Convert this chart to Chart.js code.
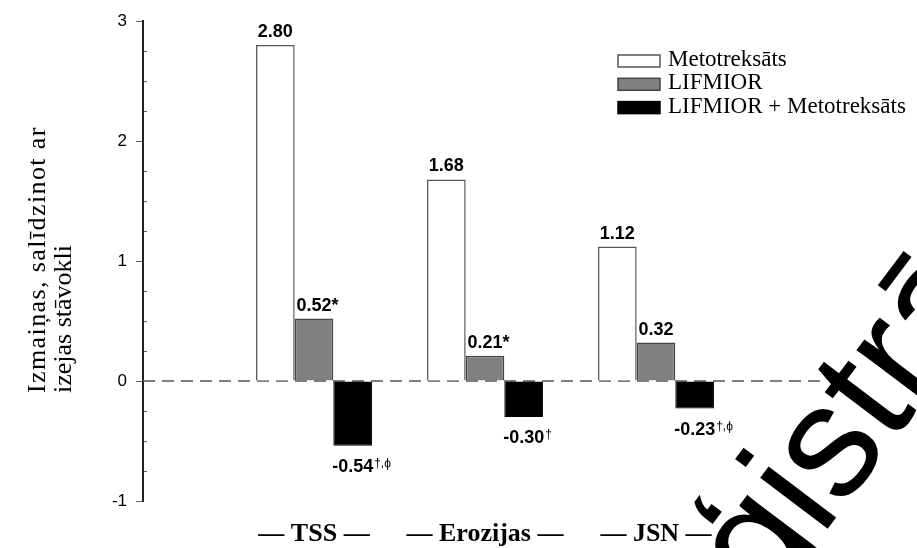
<!DOCTYPE html>
<html>
<head>
<meta charset="utf-8">
<script src="https://cdn.jsdelivr.net/npm/chart.js@4.4.1/dist/chart.umd.min.js"></script>
<style>
  html, body { margin: 0; padding: 0; background: #fff; }
</style>
</head>
<body>
<canvas id="chart" width="917" height="548"></canvas>
<script>
// Data
const categories = ['TSS', 'Erozijas', 'JSN'];
const metotreksats = [2.80, 1.68, 1.12];
const lifmior = [0.52, 0.21, 0.32];
const lifmiorMtx = [-0.54, -0.30, -0.23];
const lifmiorNotes = ['*', '*', ''];
const lifmiorMtxNotes = ['\u2020,\u03D5', '\u2020', '\u2020,\u03D5'];
const seriesNames = ['Metotreksāts', 'LIFMIOR', 'LIFMIOR + Metotreksāts'];
const yRange = [-1, 3];
const yStep = 0.25;
const yTitle = ['Izmaiņas, salīdzinot ar', 'izejas stāvokli'];
const watermark = 'reģistrāts';

const SERIF = '"Liberation Serif", "Times New Roman", serif';
const SANS = '"Liberation Sans", Arial, sans-serif';

// empty slots at both ends so the axis starts half a group before TSS
const pad = arr => [null, ...arr, null];
const xLabels = ['', ...categories.map(c => '\u2014 ' + c + ' \u2014'), ''];

// Zero line (dashed)
const zeroLine = {
    id: 'zeroLine',
    beforeDatasetsDraw(chart) {
        const { ctx, chartArea, scales } = chart;
        const y = scales.y.getPixelForValue(0);
        ctx.save();
        ctx.strokeStyle = '#555';
        ctx.lineWidth = 1.5;
        ctx.setLineDash([12, 7]);
        ctx.beginPath();
        ctx.moveTo(chartArea.left, y);
        ctx.lineTo(chartArea.right, y);
        ctx.stroke();
        ctx.restore();
    }
};

// Value labels over / under the bars
const valueLabels = {
    id: 'valueLabels',
    afterDatasetsDraw(chart) {
        const { ctx } = chart;
        ctx.save();
        ctx.fillStyle = '#000';
        ctx.textBaseline = 'alphabetic';
        ctx.textAlign = 'left';
        chart.data.datasets.forEach((ds, i) => {
            const meta = chart.getDatasetMeta(i);
            meta.data.forEach((bar, j) => {
                const v = ds.data[j];
                if (v === null || v === undefined) return;
                const text = v.toFixed(2);
                ctx.font = 'bold 18px ' + SANS;
                const w = ctx.measureText(text).width;
                const x = bar.x - w / 2;
                const y = v >= 0 ? bar.y - 8 : bar.y + 26;
                ctx.fillText(text, x, y);
                const note = ds.notes ? ds.notes[j] : '';
                if (!note) return;
                if (note === '*') {
                    ctx.fillText(note, x + w, y);
                } else {
                    ctx.font = '12px ' + SANS;
                    ctx.fillText(note, x + w + 1, y - 5);
                }
            });
        });
        ctx.restore();
    }
};

// Minor ticks on the inner side of the y axis, legend, axis title, watermark
const decorations = {
    id: 'decorations',
    afterDraw(chart) {
        const { ctx, chartArea, scales } = chart;
        ctx.save();

        // minor ticks
        ctx.strokeStyle = '#666';
        ctx.lineWidth = 1;
        scales.y.ticks.forEach(t => {
            if (Number.isInteger(t.value)) return;
            const y = Math.round(scales.y.getPixelForValue(t.value)) + 0.5;
            ctx.beginPath();
            ctx.moveTo(chartArea.left + 1, y);
            ctx.lineTo(chartArea.left + 4, y);
            ctx.stroke();
        });

        // legend
        const lx = 618, ly = 55, rowH = 23.3, bw = 42, bh = 12;
        chart.data.datasets.forEach((ds, i) => {
            const y = ly + i * rowH;
            ctx.fillStyle = ds.backgroundColor;
            ctx.fillRect(lx, y, bw, bh);
            ctx.strokeStyle = ds.borderColor;
            ctx.lineWidth = 1.5;
            ctx.strokeRect(lx, y, bw, bh);
            ctx.fillStyle = '#000';
            ctx.font = '23px ' + SERIF;
            ctx.textAlign = 'left';
            ctx.textBaseline = 'alphabetic';
            ctx.fillText(ds.label, lx + bw + 8, y + 11);
        });

        // y axis title
        ctx.save();
        ctx.translate(0, 393);
        ctx.rotate(-Math.PI / 2);
        ctx.font = '26px ' + SERIF;
        ctx.fillStyle = '#000';
        ctx.textAlign = 'left';
        ctx.letterSpacing = '1.4px';
        ctx.fillText(yTitle[0], 0, 45);
        ctx.letterSpacing = '0px';
        ctx.fillText(yTitle[1], 0, 71);
        ctx.restore();

        // watermark
        ctx.save();
        ctx.translate(682, 722);
        ctx.rotate(-53 * Math.PI / 180);
        ctx.font = '160px ' + SANS;
        ctx.fillStyle = '#000';
        ctx.textAlign = 'left';
        ctx.fillText(watermark, 0, 0);
        ctx.restore();

        ctx.restore();
    }
};

const ctx = document.getElementById('chart').getContext('2d');
new Chart(ctx, {
    type: 'bar',
    data: {
        labels: xLabels,
        datasets: [
            {
                label: seriesNames[0],
                data: pad(metotreksats),
                backgroundColor: '#ffffff',
                borderColor: '#555555',
                borderWidth: 1.5
            },
            {
                label: seriesNames[1],
                data: pad(lifmior),
                notes: pad(lifmiorNotes),
                backgroundColor: '#808080',
                borderColor: '#444444',
                borderWidth: 1.5
            },
            {
                label: seriesNames[2],
                data: pad(lifmiorMtx),
                notes: pad(lifmiorMtxNotes),
                backgroundColor: '#000000',
                borderColor: '#000000',
                borderWidth: 1
            }
        ]
    },
    options: {
        responsive: false,
        animation: false,
        layout: { padding: { left: 108, right: 90, top: 21, bottom: 0 } },
        plugins: {
            legend: { display: false },
            tooltip: { enabled: false }
        },
        datasets: {
            bar: { barPercentage: 1, categoryPercentage: 0.678, borderSkipped: 'start' }
        },
        scales: {
            x: {
                offset: false,
                grid: { display: false, drawTicks: false },
                border: { display: false },
                ticks: {
                    color: '#000',
                    font: { family: SERIF, size: 26, weight: 'bold' },
                    padding: 18,
                    autoSkip: false,
                    maxRotation: 0
                },
                afterFit: s => { s.height = 47; }
            },
            y: {
                min: yRange[0],
                max: yRange[1],
                ticks: {
                    stepSize: yStep,
                    autoSkip: false,
                    color: '#000',
                    font: { family: SANS, size: 17 },
                    padding: 9,
                    callback: v => Number.isInteger(v) ? v : ''
                },
                grid: {
                    drawOnChartArea: false,
                    drawTicks: true,
                    tickLength: 7,
                    tickWidth: 1,
                    tickColor: c => Number.isInteger(c.tick.value) ? '#666' : 'rgba(0,0,0,0)'
                },
                border: { color: '#222', width: 2 },
                afterFit: s => { s.width = 35; }
            }
        }
    },
    plugins: [zeroLine, valueLabels, decorations]
});
</script>
</body>
</html>
